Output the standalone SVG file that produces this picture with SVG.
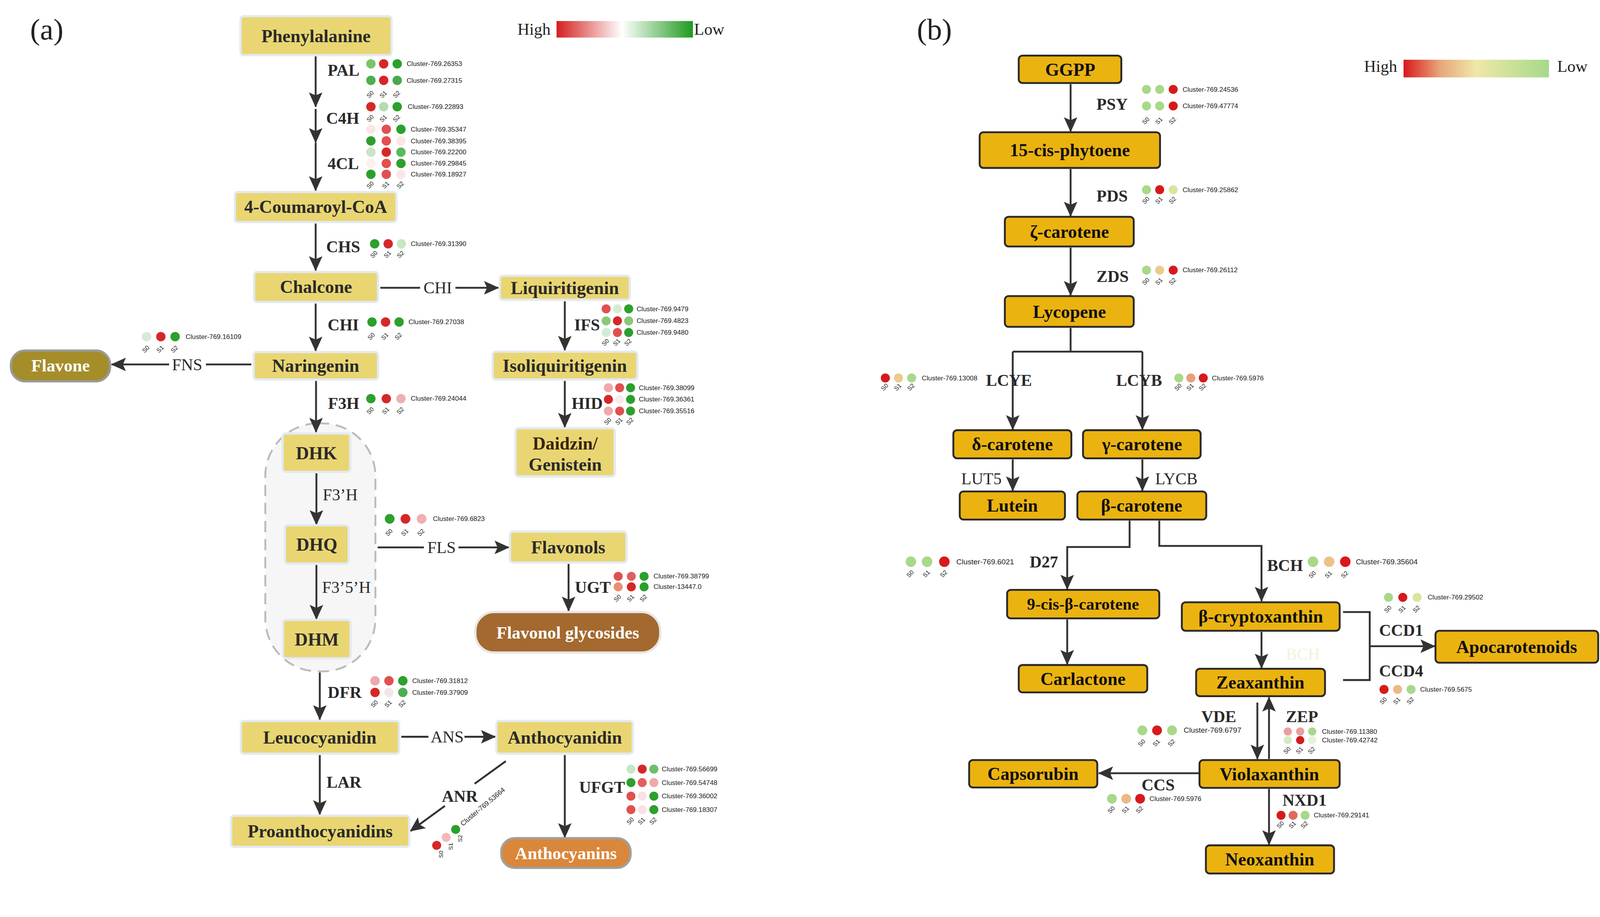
<svg xmlns="http://www.w3.org/2000/svg" width="4264" height="2348" viewBox="0 0 4264 2348">
<defs>
<marker id="ah" markerUnits="userSpaceOnUse" markerWidth="40" markerHeight="40" viewBox="0 0 40 40" refX="38" refY="20" orient="auto"><path d="M0,2 L40,20 L0,38 L8,20 Z" fill="#333"/></marker>
<linearGradient id="gl" x1="0" x2="1"><stop offset="0" stop-color="#d41f1f"/><stop offset="0.48" stop-color="#ffffff"/><stop offset="1" stop-color="#1f9a1f"/></linearGradient>
<linearGradient id="gr" x1="0" x2="1"><stop offset="0" stop-color="#d7191c"/><stop offset="0.25" stop-color="#e7a67a"/><stop offset="0.5" stop-color="#efe8a8"/><stop offset="1" stop-color="#a6d98a"/></linearGradient>
<style>
.ln{fill:#E9D672;stroke:#e4e9f2;stroke-width:6}
.rn{fill:#EBB310;stroke:#2a2a2a;stroke-width:5}
.t{font-family:"Liberation Serif",serif;font-weight:bold;font-size:48px;fill:#2a2a2a;text-anchor:middle}
.rn + .t{fill:#111}
.tw{font-family:"Liberation Serif",serif;font-weight:bold;font-size:46px;fill:#ffffff;text-anchor:middle}
.e{font-family:"Liberation Serif",serif;font-weight:bold;font-size:44px;fill:#2a2a2a}
.en{font-family:"Liberation Serif",serif;font-size:44px;fill:#2a2a2a}
.c{font-family:"Liberation Sans",sans-serif;font-size:18px;fill:#222}
.s{font-family:"Liberation Sans",sans-serif;font-size:16px;fill:#222}
.lg{font-family:"Liberation Serif",serif;font-size:44px;fill:#222}
.w{stroke:#333;stroke-width:5;fill:none}
.wa{stroke:#333;stroke-width:5;fill:none;marker-end:url(#ah)}
</style>
</defs>
<rect width="4264" height="2348" fill="#fff"/>
<g transform="scale(0.962)">
<text x="80" y="105" font-family="Liberation Serif,serif" font-size="80" fill="#222">(a)</text>
<text x="2440" y="105" font-family="Liberation Serif,serif" font-size="80" fill="#222">(b)</text>

<g id="legend-a"><text class="lg" x="1377" y="93">High</text><rect x="1481" y="56" width="363" height="44" fill="url(#gl)"/><text class="lg" x="1847" y="93">Low</text></g>
<g id="legend-b"><text class="lg" x="3630" y="191">High</text><rect x="3735" y="159" width="387" height="47" fill="url(#gr)"/><text class="lg" x="4144" y="191">Low</text></g>

<g id="container"><rect x="706" y="1127" width="293" height="660" rx="140" fill="#f6f6f6" stroke="#bbb" stroke-width="5" stroke-dasharray="30,18"/></g>

<g id="connectors">
<line class="wa" x1="840" y1="150" x2="840" y2="284"/>
<line class="wa" x1="840" y1="290" x2="840" y2="379"/>
<line class="wa" x1="840" y1="380" x2="840" y2="507"/>
<line class="wa" x1="840" y1="595" x2="840" y2="720"/>
<line class="wa" x1="840" y1="808" x2="840" y2="934"/>
<line class="w" x1="1012" y1="766" x2="1118" y2="766"/><line class="wa" x1="1212" y1="766" x2="1326" y2="766"/>
<line class="wa" x1="1503" y1="802" x2="1503" y2="932"/>
<line class="wa" x1="1503" y1="1014" x2="1503" y2="1137"/>
<line class="w" x1="669" y1="970" x2="548" y2="970"/><line class="wa" x1="450" y1="970" x2="297" y2="970"/>
<line class="wa" x1="841" y1="1014" x2="841" y2="1150"/>
<line class="wa" x1="842" y1="1260" x2="842" y2="1396"/>
<line class="wa" x1="842" y1="1504" x2="842" y2="1648"/>
<line class="w" x1="1005" y1="1457" x2="1128" y2="1457"/><line class="wa" x1="1220" y1="1457" x2="1354" y2="1457"/>
<line class="wa" x1="1513" y1="1501" x2="1513" y2="1626"/>
<line class="wa" x1="851" y1="1790" x2="851" y2="1915"/>
<line class="w" x1="1068" y1="1961" x2="1140" y2="1961"/><line class="wa" x1="1236" y1="1961" x2="1318" y2="1961"/>
<line class="wa" x1="851" y1="2010" x2="851" y2="2168"/>
<line class="w" x1="1346" y1="2026" x2="1263" y2="2086"/><line class="wa" x1="1184" y1="2145" x2="1092" y2="2212"/>
<line class="wa" x1="1503" y1="2010" x2="1503" y2="2229"/>

<line class="wa" x1="2849" y1="224" x2="2849" y2="350"/>
<line class="wa" x1="2849" y1="450" x2="2849" y2="575"/>
<line class="wa" x1="2849" y1="659" x2="2849" y2="786"/>
<path class="w" d="M2849,873 V936 M2695,936 H3040"/>
<line class="wa" x1="2695" y1="936" x2="2695" y2="1143"/>
<line class="wa" x1="3040" y1="936" x2="3040" y2="1143"/>
<line class="wa" x1="2695" y1="1223" x2="2695" y2="1306"/>
<line class="wa" x1="3040" y1="1223" x2="3040" y2="1306"/>
<path class="wa" d="M3006,1386 V1456 H2840 V1568"/>
<path class="wa" d="M3085,1386 V1453 H3357 V1600"/>
<line class="wa" x1="2840" y1="1649" x2="2840" y2="1768"/>
<path class="w" d="M3574,1629 H3645 V1810 H3574"/>
<line class="wa" x1="3645" y1="1720" x2="3818" y2="1720"/>
<line class="wa" x1="3357" y1="1682" x2="3357" y2="1778"/>
<line class="wa" x1="3346" y1="1870" x2="3346" y2="2020"/>
<line class="wa" x1="3377" y1="2020" x2="3377" y2="1856"/>
<line class="wa" x1="3192" y1="2058" x2="2924" y2="2058"/>
<line class="wa" x1="3377" y1="2100" x2="3377" y2="2248"/>
</g>

<g id="nodes-a">
<g id="n-phe"><rect class="ln" x="640" y="43" width="402" height="104" rx="8"/><text class="t" x="841" y="112">Phenylalanine</text></g>
<g id="n-cou"><rect class="ln" x="625" y="511" width="430" height="80" rx="8"/><text class="t" x="840" y="567">4-Coumaroyl-CoA</text></g>
<g id="n-cha"><rect class="ln" x="676" y="724" width="330" height="80" rx="8"/><text class="t" x="841" y="780">Chalcone</text></g>
<g id="n-liq"><rect class="ln" x="1330" y="734" width="346" height="64" rx="8"/><text class="t" x="1503" y="783">Liquiritigenin</text></g>
<g id="n-nar"><rect class="ln" x="675" y="937" width="331" height="73" rx="8"/><text class="t" x="840" y="990">Naringenin</text></g>
<g id="n-fla"><rect x="29" y="933" width="264" height="82" rx="38" fill="#A58D2A" stroke="#9a9a9a" stroke-width="6"/><text class="tw" x="161" y="989">Flavone</text></g>
<g id="n-iso"><rect class="ln" x="1311" y="936" width="385" height="74" rx="8"/><text class="t" x="1503" y="990">Isoliquiritigenin</text></g>
<g id="n-dai"><rect class="ln" x="1372" y="1140" width="264" height="128" rx="8"/><text class="t" x="1504" y="1196" style="fill:#3a2410">Daidzin/</text><text class="t" x="1504" y="1253">Genistein</text></g>
<g id="n-dhk"><rect class="ln" x="752" y="1154" width="180" height="102" rx="8"/><text class="t" x="842" y="1222">DHK</text></g>
<g id="n-dhq"><rect class="ln" x="758" y="1398" width="170" height="102" rx="8"/><text class="t" x="843" y="1466">DHQ</text></g>
<g id="n-dhm"><rect class="ln" x="753" y="1650" width="180" height="102" rx="8"/><text class="t" x="843" y="1718">DHM</text></g>
<g id="n-flv"><rect class="ln" x="1357" y="1415" width="310" height="82" rx="8"/><text class="t" x="1512" y="1473">Flavonols</text></g>
<g id="n-flg"><rect x="1265" y="1629" width="492" height="108" rx="50" fill="#A3692F" stroke="#e6e6e6" stroke-width="6"/><text class="tw" x="1511" y="1700">Flavonol glycosides</text></g>
<g id="n-leu"><rect class="ln" x="641" y="1919" width="421" height="87" rx="8"/><text class="t" x="851" y="1979">Leucocyanidin</text></g>
<g id="n-ant"><rect class="ln" x="1321" y="1919" width="363" height="87" rx="8"/><text class="t" x="1503" y="1979">Anthocyanidin</text></g>
<g id="n-pro"><rect class="ln" x="615" y="2171" width="474" height="83" rx="8"/><text class="t" x="852" y="2229">Proanthocyanidins</text></g>
<g id="n-acy"><rect x="1334" y="2231" width="344" height="79" rx="36" fill="#D9873A" stroke="#a0a0a0" stroke-width="6"/><text class="tw" x="1506" y="2287">Anthocyanins</text></g>
</g>

<g id="nodes-b">
<g id="n-ggpp"><rect class="rn" x="2711" y="148" width="273" height="73" rx="10"/><text class="t" x="2848" y="202">GGPP</text></g>
<g id="n-phy"><rect class="rn" x="2607" y="352" width="480" height="95" rx="10"/><text class="t" x="2847" y="416">15-cis-phytoene</text></g>
<g id="n-zeta"><rect class="rn" x="2674" y="577" width="343" height="79" rx="10"/><text class="t" x="2846" y="633">ζ-carotene</text></g>
<g id="n-lyc"><rect class="rn" x="2674" y="788" width="343" height="82" rx="10"/><text class="t" x="2846" y="846">Lycopene</text></g>
<g id="n-del"><rect class="rn" x="2537" y="1145" width="314" height="75" rx="10"/><text class="t" x="2694" y="1199">δ-carotene</text></g>
<g id="n-gam"><rect class="rn" x="2882" y="1145" width="313" height="75" rx="10"/><text class="t" x="3039" y="1199">γ-carotene</text></g>
<g id="n-lut"><rect class="rn" x="2554" y="1308" width="280" height="75" rx="10"/><text class="t" x="2694" y="1362">Lutein</text></g>
<g id="n-bet"><rect class="rn" x="2867" y="1308" width="343" height="75" rx="10"/><text class="t" x="3038" y="1362">β-carotene</text></g>
<g id="n-9cis"><rect class="rn" x="2680" y="1570" width="405" height="76" rx="10"/><text class="t" x="2882" y="1623" style="font-size:44px">9-cis-β-carotene</text></g>
<g id="n-car"><rect class="rn" x="2711" y="1770" width="342" height="73" rx="10"/><text class="t" x="2882" y="1823">Carlactone</text></g>
<g id="n-bcr"><rect class="rn" x="3145" y="1603" width="420" height="76" rx="10"/><text class="t" x="3355" y="1657">β-cryptoxanthin</text></g>
<g id="n-apo"><rect class="rn" x="3820" y="1679" width="433" height="85" rx="10"/><text class="t" x="4036" y="1738">Apocarotenoids</text></g>
<g id="n-zea"><rect class="rn" x="3183" y="1780" width="343" height="73" rx="10"/><text class="t" x="3354" y="1833">Zeaxanthin</text></g>
<g id="n-vio"><rect class="rn" x="3192" y="2023" width="373" height="74" rx="10"/><text class="t" x="3378" y="2077">Violaxanthin</text></g>
<g id="n-cap"><rect class="rn" x="2579" y="2023" width="341" height="73" rx="10"/><text class="t" x="2749" y="2076">Capsorubin</text></g>
<g id="n-neo"><rect class="rn" x="3209" y="2250" width="341" height="75" rx="10"/><text class="t" x="3379" y="2304">Neoxanthin</text></g>
</g>

<g id="enzyme-labels">
<text class="e" x="872" y="202">PAL</text>
<text class="e" x="868" y="330">C4H</text>
<text class="e" x="872" y="450">4CL</text>
<text class="e" x="868" y="672">CHS</text>
<text class="e" x="872" y="879">CHI</text>
<text class="en" x="1165" y="781" text-anchor="middle">CHI</text>
<text class="e" x="1528" y="879">IFS</text>
<text class="en" x="498" y="985" text-anchor="middle">FNS</text>
<text class="e" x="873" y="1088">F3H</text>
<text class="e" x="1521" y="1088">HID</text>
<text class="en" x="859" y="1332">F3’H</text>
<text class="en" x="1175" y="1472" text-anchor="middle">FLS</text>
<text class="en" x="857" y="1578">F3’5’H</text>
<text class="e" x="1530" y="1578">UGT</text>
<text class="e" x="872" y="1858">DFR</text>
<text class="en" x="1190" y="1976" text-anchor="middle">ANS</text>
<text class="e" x="869" y="2097">LAR</text>
<text class="e" x="1176" y="2134">ANR</text>
<text class="e" x="1541" y="2110">UFGT</text>
<text class="e" x="2918" y="292">PSY</text>
<text class="e" x="2918" y="536">PDS</text>
<text class="e" x="2918" y="751">ZDS</text>
<text class="e" x="2624" y="1027">LCYE</text>
<text class="e" x="2970" y="1027">LCYB</text>
<text class="en" x="2558" y="1289">LUT5</text>
<text class="en" x="3074" y="1289">LYCB</text>
<text class="e" x="2740" y="1510">D27</text>
<text class="e" x="3372" y="1520">BCH</text>
<text class="e" x="3670" y="1692">CCD1</text>
<text class="e" x="3670" y="1800">CCD4</text>
<text class="en" x="3422" y="1756" style="fill:#f4f0dc">BCH</text>
<text class="e" x="3197" y="1922">VDE</text>
<text class="e" x="3422" y="1922">ZEP</text>
<text class="e" x="3038" y="2104">CCS</text>
<text class="e" x="3413" y="2145">NXD1</text>
</g>

<g id="heatmaps-a">
<circle cx="987" cy="170" r="12.5" fill="#7cc46a"/><circle cx="1021" cy="170" r="12.5" fill="#d62728"/><circle cx="1057" cy="170" r="12.5" fill="#2ca02c"/><text class="c" x="1082" y="176">Cluster-769.26353</text>
<circle cx="987" cy="214" r="12.5" fill="#4caf50"/><circle cx="1021" cy="214" r="12.5" fill="#d62728"/><circle cx="1057" cy="214" r="12.5" fill="#4aa84a"/><text class="c" x="1082" y="220">Cluster-769.27315</text>
<text class="s" transform="translate(982,262) rotate(-45)">S0</text><text class="s" transform="translate(1017,262) rotate(-45)">S1</text><text class="s" transform="translate(1052,262) rotate(-45)">S2</text>
<circle cx="987" cy="284" r="12.5" fill="#d62728"/><circle cx="1021" cy="284" r="12.5" fill="#b4dcb0"/><circle cx="1057" cy="284" r="12.5" fill="#2ca02c"/><text class="c" x="1085" y="290">Cluster-769.22893</text>
<text class="s" transform="translate(982,326) rotate(-45)">S0</text><text class="s" transform="translate(1017,326) rotate(-45)">S1</text><text class="s" transform="translate(1052,326) rotate(-45)">S2</text>
<circle cx="987" cy="344" r="12.5" fill="#fbe6e6"/><circle cx="1028" cy="344" r="12.5" fill="#e05050"/><circle cx="1067" cy="344" r="12.5" fill="#2ca02c"/><text class="c" x="1093" y="350">Cluster-769.35347</text>
<circle cx="987" cy="375" r="12.5" fill="#2ca02c"/><circle cx="1028" cy="375" r="12.5" fill="#e05050"/><circle cx="1067" cy="375" r="12.5" fill="#fbe6e6"/><text class="c" x="1093" y="381">Cluster-769.38395</text>
<circle cx="987" cy="405" r="12.5" fill="#c8e6c4"/><circle cx="1028" cy="405" r="12.5" fill="#d62728"/><circle cx="1067" cy="405" r="12.5" fill="#5cb85c"/><text class="c" x="1093" y="411">Cluster-769.22200</text>
<circle cx="987" cy="435" r="12.5" fill="#fdf0f0"/><circle cx="1028" cy="435" r="12.5" fill="#e05050"/><circle cx="1067" cy="435" r="12.5" fill="#2ca02c"/><text class="c" x="1093" y="441">Cluster-769.29845</text>
<circle cx="987" cy="464" r="12.5" fill="#2ca02c"/><circle cx="1028" cy="464" r="12.5" fill="#e05050"/><circle cx="1067" cy="464" r="12.5" fill="#fbe6e6"/><text class="c" x="1093" y="470">Cluster-769.18927</text>
<text class="s" transform="translate(982,503) rotate(-45)">S0</text><text class="s" transform="translate(1023,503) rotate(-45)">S1</text><text class="s" transform="translate(1062,503) rotate(-45)">S2</text>
<circle cx="997" cy="649" r="12.5" fill="#2ca02c"/><circle cx="1033" cy="649" r="12.5" fill="#d62728"/><circle cx="1068" cy="649" r="12.5" fill="#c8e6c4"/><text class="c" x="1093" y="655">Cluster-769.31390</text>
<text class="s" transform="translate(992,688) rotate(-45)">S0</text><text class="s" transform="translate(1028,688) rotate(-45)">S1</text><text class="s" transform="translate(1063,688) rotate(-45)">S2</text>
<circle cx="990" cy="857" r="12.5" fill="#2ca02c"/><circle cx="1026" cy="857" r="12.5" fill="#d62728"/><circle cx="1062" cy="857" r="12.5" fill="#2ca02c"/><text class="c" x="1087" y="863">Cluster-769.27038</text>
<text class="s" transform="translate(985,906) rotate(-45)">S0</text><text class="s" transform="translate(1021,906) rotate(-45)">S1</text><text class="s" transform="translate(1057,906) rotate(-45)">S2</text>
<circle cx="390" cy="896" r="12.5" fill="#d4ecd4"/><circle cx="428" cy="896" r="12.5" fill="#d62728"/><circle cx="466" cy="896" r="12.5" fill="#2ca02c"/><text class="c" x="494" y="902">Cluster-769.16109</text>
<text class="s" transform="translate(385,940) rotate(-45)">S0</text><text class="s" transform="translate(423,940) rotate(-45)">S1</text><text class="s" transform="translate(461,940) rotate(-45)">S2</text>
<circle cx="1613" cy="822" r="12" fill="#e05050"/><circle cx="1643" cy="822" r="12" fill="#d4ecd4"/><circle cx="1673" cy="822" r="12" fill="#2ca02c"/><text class="c" x="1694" y="828">Cluster-769.9479</text>
<circle cx="1613" cy="854" r="12" fill="#88c878"/><circle cx="1643" cy="854" r="12" fill="#d62728"/><circle cx="1673" cy="854" r="12" fill="#88c878"/><text class="c" x="1694" y="860">Cluster-769.4823</text>
<circle cx="1613" cy="885" r="12" fill="#d4ecd4"/><circle cx="1643" cy="885" r="12" fill="#e05050"/><circle cx="1673" cy="885" r="12" fill="#2ca02c"/><text class="c" x="1694" y="891">Cluster-769.9480</text>
<text class="s" transform="translate(1608,922) rotate(-45)">S0</text><text class="s" transform="translate(1638,922) rotate(-45)">S1</text><text class="s" transform="translate(1668,922) rotate(-45)">S2</text>
<circle cx="987" cy="1061" r="12.5" fill="#2ca02c"/><circle cx="1028" cy="1061" r="12.5" fill="#d62728"/><circle cx="1067" cy="1061" r="12.5" fill="#f0b0b0"/><text class="c" x="1093" y="1067">Cluster-769.24044</text>
<text class="s" transform="translate(982,1104) rotate(-45)">S0</text><text class="s" transform="translate(1023,1104) rotate(-45)">S1</text><text class="s" transform="translate(1062,1104) rotate(-45)">S2</text>
<circle cx="1619" cy="1032" r="12" fill="#f0a8a8"/><circle cx="1649" cy="1032" r="12" fill="#e05050"/><circle cx="1678" cy="1032" r="12" fill="#2ca02c"/><text class="c" x="1700" y="1038">Cluster-769.38099</text>
<circle cx="1619" cy="1063" r="12" fill="#d62728"/><circle cx="1649" cy="1063" r="12" fill="#fbeaea"/><circle cx="1678" cy="1063" r="12" fill="#2ca02c"/><text class="c" x="1700" y="1069">Cluster-769.36361</text>
<circle cx="1619" cy="1094" r="12" fill="#f0a8a8"/><circle cx="1649" cy="1094" r="12" fill="#e05050"/><circle cx="1678" cy="1094" r="12" fill="#2ca02c"/><text class="c" x="1700" y="1100">Cluster-769.35516</text>
<text class="s" transform="translate(1614,1132) rotate(-45)">S0</text><text class="s" transform="translate(1644,1132) rotate(-45)">S1</text><text class="s" transform="translate(1673,1132) rotate(-45)">S2</text>
<circle cx="1037" cy="1381" r="13" fill="#2ca02c"/><circle cx="1079" cy="1381" r="13" fill="#d62728"/><circle cx="1122" cy="1381" r="13" fill="#f0b0b0"/><text class="c" x="1152" y="1387">Cluster-769.6823</text>
<text class="s" transform="translate(1032,1428) rotate(-45)">S0</text><text class="s" transform="translate(1074,1428) rotate(-45)">S1</text><text class="s" transform="translate(1117,1428) rotate(-45)">S2</text>
<circle cx="1645" cy="1534" r="12" fill="#e05050"/><circle cx="1680" cy="1534" r="12" fill="#e06060"/><circle cx="1714" cy="1534" r="12" fill="#2ca02c"/><text class="c" x="1739" y="1540">Cluster-769.38799</text>
<circle cx="1645" cy="1562" r="12" fill="#e89070"/><circle cx="1680" cy="1562" r="12" fill="#d62728"/><circle cx="1714" cy="1562" r="12" fill="#2ca02c"/><text class="c" x="1739" y="1568">Cluster-13447.0</text>
<text class="s" transform="translate(1640,1603) rotate(-45)">S0</text><text class="s" transform="translate(1675,1603) rotate(-45)">S1</text><text class="s" transform="translate(1709,1603) rotate(-45)">S2</text>
<circle cx="998" cy="1812" r="12.5" fill="#f0a8a8"/><circle cx="1035" cy="1812" r="12.5" fill="#e05050"/><circle cx="1072" cy="1812" r="12.5" fill="#2ca02c"/><text class="c" x="1097" y="1818">Cluster-769.31812</text>
<circle cx="998" cy="1843" r="12.5" fill="#d62728"/><circle cx="1035" cy="1843" r="12.5" fill="#f0e8e8"/><circle cx="1072" cy="1843" r="12.5" fill="#4caf50"/><text class="c" x="1097" y="1849">Cluster-769.37909</text>
<text class="s" transform="translate(993,1884) rotate(-45)">S0</text><text class="s" transform="translate(1030,1884) rotate(-45)">S1</text><text class="s" transform="translate(1067,1884) rotate(-45)">S2</text>
<circle cx="1679" cy="2047" r="12" fill="#c8e6c4"/><circle cx="1709" cy="2047" r="12" fill="#d62728"/><circle cx="1740" cy="2047" r="12" fill="#6abf6a"/><text class="c" x="1761" y="2053">Cluster-769.56699</text>
<circle cx="1679" cy="2083" r="12" fill="#2ca02c"/><circle cx="1709" cy="2083" r="12" fill="#e06060"/><circle cx="1740" cy="2083" r="12" fill="#f0a8a8"/><text class="c" x="1761" y="2089">Cluster-769.54748</text>
<circle cx="1679" cy="2119" r="12" fill="#e05050"/><circle cx="1709" cy="2119" r="12" fill="#fbe0e4"/><circle cx="1740" cy="2119" r="12" fill="#2ca02c"/><text class="c" x="1761" y="2125">Cluster-769.36002</text>
<circle cx="1679" cy="2155" r="12" fill="#e05050"/><circle cx="1709" cy="2155" r="12" fill="#fbe0e4"/><circle cx="1740" cy="2155" r="12" fill="#2ca02c"/><text class="c" x="1761" y="2161">Cluster-769.18307</text>
<text class="s" transform="translate(1674,2196) rotate(-45)">S0</text><text class="s" transform="translate(1704,2196) rotate(-45)">S1</text><text class="s" transform="translate(1735,2196) rotate(-45)">S2</text>
<g transform="translate(1162,2250) rotate(-40)">
<circle cx="0" cy="0" r="12" fill="#d62728"/><circle cx="33" cy="0" r="12" fill="#f4b8b8"/><circle cx="66" cy="0" r="12" fill="#2ca02c"/><text class="c" x="86" y="6">Cluster-769.53664</text>
<text class="s" transform="translate(4,22) rotate(-50)" text-anchor="end">S0</text><text class="s" transform="translate(37,22) rotate(-50)" text-anchor="end">S1</text><text class="s" transform="translate(70,22) rotate(-50)" text-anchor="end">S2</text>
</g>
</g>

<g id="heatmaps-b">
<circle cx="3051" cy="238" r="12" fill="#a8d88a"/><circle cx="3086" cy="238" r="12" fill="#a8d88a"/><circle cx="3122" cy="238" r="12" fill="#d7191c"/><text class="c" x="3147" y="244">Cluster-769.24536</text>
<circle cx="3051" cy="282" r="12" fill="#a8d88a"/><circle cx="3086" cy="282" r="12" fill="#a8d88a"/><circle cx="3122" cy="282" r="12" fill="#d7191c"/><text class="c" x="3147" y="288">Cluster-769.47774</text>
<text class="s" transform="translate(3046,332) rotate(-45)">S0</text><text class="s" transform="translate(3081,332) rotate(-45)">S1</text><text class="s" transform="translate(3117,332) rotate(-45)">S2</text>
<circle cx="3051" cy="505" r="12" fill="#a8d88a"/><circle cx="3086" cy="505" r="12" fill="#d7191c"/><circle cx="3122" cy="505" r="12" fill="#d9e6a0"/><text class="c" x="3147" y="511">Cluster-769.25862</text>
<text class="s" transform="translate(3046,544) rotate(-45)">S0</text><text class="s" transform="translate(3081,544) rotate(-45)">S1</text><text class="s" transform="translate(3117,544) rotate(-45)">S2</text>
<circle cx="3051" cy="719" r="12" fill="#a8d88a"/><circle cx="3086" cy="719" r="12" fill="#ebcb8f"/><circle cx="3122" cy="719" r="12" fill="#d7191c"/><text class="c" x="3147" y="725">Cluster-769.26112</text>
<text class="s" transform="translate(3046,760) rotate(-45)">S0</text><text class="s" transform="translate(3081,760) rotate(-45)">S1</text><text class="s" transform="translate(3117,760) rotate(-45)">S2</text>
<circle cx="2356" cy="1006" r="12" fill="#d7191c"/><circle cx="2391" cy="1006" r="12" fill="#ebcb8f"/><circle cx="2426" cy="1006" r="12" fill="#a8d88a"/><text class="c" x="2453" y="1012">Cluster-769.13008</text>
<text class="s" transform="translate(2351,1041) rotate(-45)">S0</text><text class="s" transform="translate(2386,1041) rotate(-45)">S1</text><text class="s" transform="translate(2421,1041) rotate(-45)">S2</text>
<circle cx="3137" cy="1006" r="12" fill="#a8d88a"/><circle cx="3169" cy="1006" r="12" fill="#e8a07a"/><circle cx="3202" cy="1006" r="12" fill="#d7191c"/><text class="c" x="3225" y="1012">Cluster-769.5976</text>
<text class="s" transform="translate(3132,1041) rotate(-45)">S0</text><text class="s" transform="translate(3164,1041) rotate(-45)">S1</text><text class="s" transform="translate(3197,1041) rotate(-45)">S2</text>
<circle cx="2424" cy="1495" r="14" fill="#a8d88a"/><circle cx="2467" cy="1495" r="14" fill="#a8d88a"/><circle cx="2513" cy="1495" r="14" fill="#d7191c"/><text class="c" x="2545" y="1502" style="font-size:20px">Cluster-769.6021</text>
<text class="s" transform="translate(2419,1538) rotate(-45)">S0</text><text class="s" transform="translate(2462,1538) rotate(-45)">S1</text><text class="s" transform="translate(2508,1538) rotate(-45)">S2</text>
<circle cx="3494" cy="1495" r="14" fill="#a8d88a"/><circle cx="3537" cy="1495" r="14" fill="#ebc38a"/><circle cx="3580" cy="1495" r="14" fill="#d7191c"/><text class="c" x="3608" y="1502" style="font-size:20px">Cluster-769.35604</text>
<text class="s" transform="translate(3489,1540) rotate(-45)">S0</text><text class="s" transform="translate(3532,1540) rotate(-45)">S1</text><text class="s" transform="translate(3575,1540) rotate(-45)">S2</text>
<circle cx="3695" cy="1590" r="12" fill="#a8d88a"/><circle cx="3733" cy="1590" r="12" fill="#d7191c"/><circle cx="3771" cy="1590" r="12" fill="#d9e6a0"/><text class="c" x="3799" y="1596">Cluster-769.29502</text>
<text class="s" transform="translate(3690,1632) rotate(-45)">S0</text><text class="s" transform="translate(3728,1632) rotate(-45)">S1</text><text class="s" transform="translate(3766,1632) rotate(-45)">S2</text>
<circle cx="3683" cy="1835" r="12" fill="#d7191c"/><circle cx="3719" cy="1835" r="12" fill="#ebb88a"/><circle cx="3755" cy="1835" r="12" fill="#a8d88a"/><text class="c" x="3779" y="1841">Cluster-769.5675</text>
<text class="s" transform="translate(3678,1876) rotate(-45)">S0</text><text class="s" transform="translate(3714,1876) rotate(-45)">S1</text><text class="s" transform="translate(3750,1876) rotate(-45)">S2</text>
<circle cx="3040" cy="1944" r="13" fill="#a8d88a"/><circle cx="3079" cy="1944" r="13" fill="#d7191c"/><circle cx="3119" cy="1944" r="13" fill="#a8d88a"/><text class="c" x="3150" y="1950" style="font-size:20px">Cluster-769.6797</text>
<text class="s" transform="translate(3035,1988) rotate(-45)">S0</text><text class="s" transform="translate(3074,1988) rotate(-45)">S1</text><text class="s" transform="translate(3114,1988) rotate(-45)">S2</text>
<circle cx="3427" cy="1947" r="11" fill="#eaa0a0"/><circle cx="3460" cy="1947" r="11" fill="#e8a0a0"/><circle cx="3492" cy="1947" r="11" fill="#a8d88a"/><text class="c" x="3518" y="1953">Cluster-769.11380</text>
<circle cx="3427" cy="1970" r="11" fill="#d4ecc4"/><circle cx="3460" cy="1970" r="11" fill="#d7191c"/><circle cx="3492" cy="1970" r="11" fill="#e4f2dc"/><text class="c" x="3518" y="1976">Cluster-769.42742</text>
<text class="s" transform="translate(3422,2008) rotate(-45)">S0</text><text class="s" transform="translate(3455,2008) rotate(-45)">S1</text><text class="s" transform="translate(3487,2008) rotate(-45)">S2</text>
<circle cx="2959" cy="2126" r="13" fill="#a8d88a"/><circle cx="2997" cy="2126" r="13" fill="#ebb88a"/><circle cx="3034" cy="2126" r="13" fill="#d7191c"/><text class="c" x="3059" y="2132">Cluster-769.5976</text>
<text class="s" transform="translate(2954,2166) rotate(-45)">S0</text><text class="s" transform="translate(2992,2166) rotate(-45)">S1</text><text class="s" transform="translate(3029,2166) rotate(-45)">S2</text>
<circle cx="3409" cy="2170" r="12" fill="#d7191c"/><circle cx="3441" cy="2170" r="12" fill="#e06a5a"/><circle cx="3473" cy="2170" r="12" fill="#a8d88a"/><text class="c" x="3496" y="2176">Cluster-769.29141</text>
<text class="s" transform="translate(3404,2206) rotate(-45)">S0</text><text class="s" transform="translate(3436,2206) rotate(-45)">S1</text><text class="s" transform="translate(3468,2206) rotate(-45)">S2</text>
</g>
</g>
</svg>
